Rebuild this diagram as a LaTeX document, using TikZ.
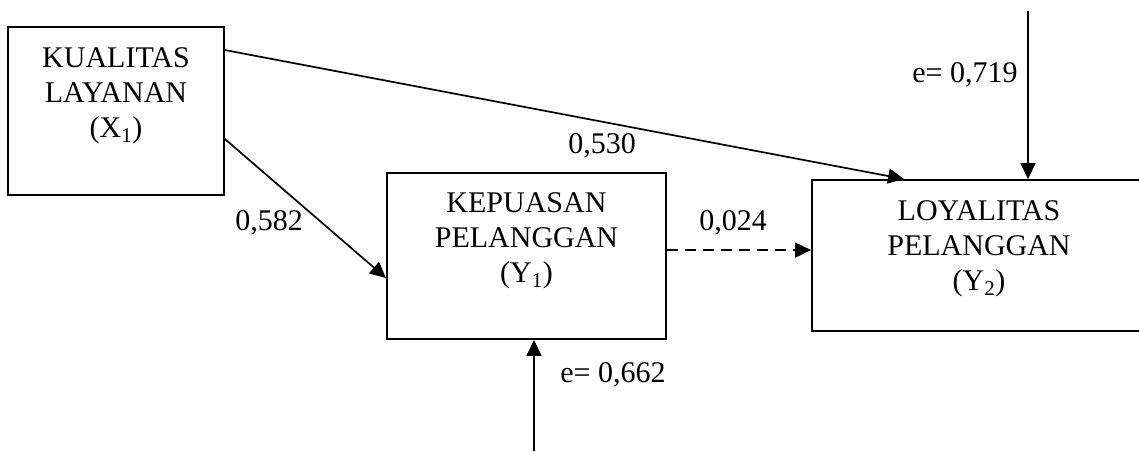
\documentclass[tikz,border=0pt]{standalone}
\usepackage{fontspec}
\setmainfont{Liberation Serif}
\usetikzlibrary{arrows.meta,calc}

\tikzset{
  box/.style={draw, line width=1.9pt, rectangle, inner sep=0pt},
  boxtext/.style={align=center, inner sep=0pt, font=\fontsize{30}{35}\selectfont},
  coef/.style={inner sep=0pt, font=\fontsize{30}{35}\selectfont},
  path/.style={line width=1.7pt, -{Triangle[length=16pt,width=15pt]}},
}

\begin{document}
\begin{tikzpicture}[x=1pt,y=-1pt]
  \clip (0,0) rectangle (1139,451);
  \fill[white] (0,0) rectangle (1139,451);

  % variables
  \node[box, minimum width=216pt, minimum height=168pt] (kl) at (116,111) {};
  \node[box, minimum width=279pt, minimum height=166pt] (kp) at (526.5,256) {};
  \node[box, minimum width=340pt, minimum height=151pt] (lp) at (982,255.5) {};

  % labels inside the boxes (anchored on the baseline of the last line)
  \node[boxtext, anchor=base] (klt) at (116,137) {KUALITAS\\LAYANAN\\(X\textsubscript{1})};
  \node[boxtext, anchor=base] (kpt) at (526.5,282) {KEPUASAN\\PELANGGAN\\(Y\textsubscript{1})};
  \node[boxtext, anchor=base] (lpt) at (979,290) {LOYALITAS\\PELANGGAN\\(Y\textsubscript{2})};

  % error terms
  \coordinate (e2) at (1028,11);
  \coordinate (e1) at (534,451);

  % paths
  \draw[path] ($(kl.north east)+(0,24)$) -- ($(lp.north west)+(93,0)$);
  \draw[path] ($(kl.north east)+(0,113)$) -- ($(kp.north west)+(0,106)$);
  \draw[path, dash pattern=on 11pt off 7pt] ($(kp.north east)+(0,78)$) -- ($(lp.north west)+(0,71)$);
  \draw[path] (e2) -- (e2 |- lp.north);
  \draw[path] (e1) -- (e1 |- kp.south);

  % coefficients
  \node[coef] (c1) at (602,146) {0,530};
  \node[coef] (c2) at (269,223) {0,582};
  \node[coef] (c3) at (733,223) {0,024};
  \node[coef] (c4) at (965,75) {e= 0,719};
  \node[coef] (c5) at (613,375) {e= 0,662};
\end{tikzpicture}
\end{document}
